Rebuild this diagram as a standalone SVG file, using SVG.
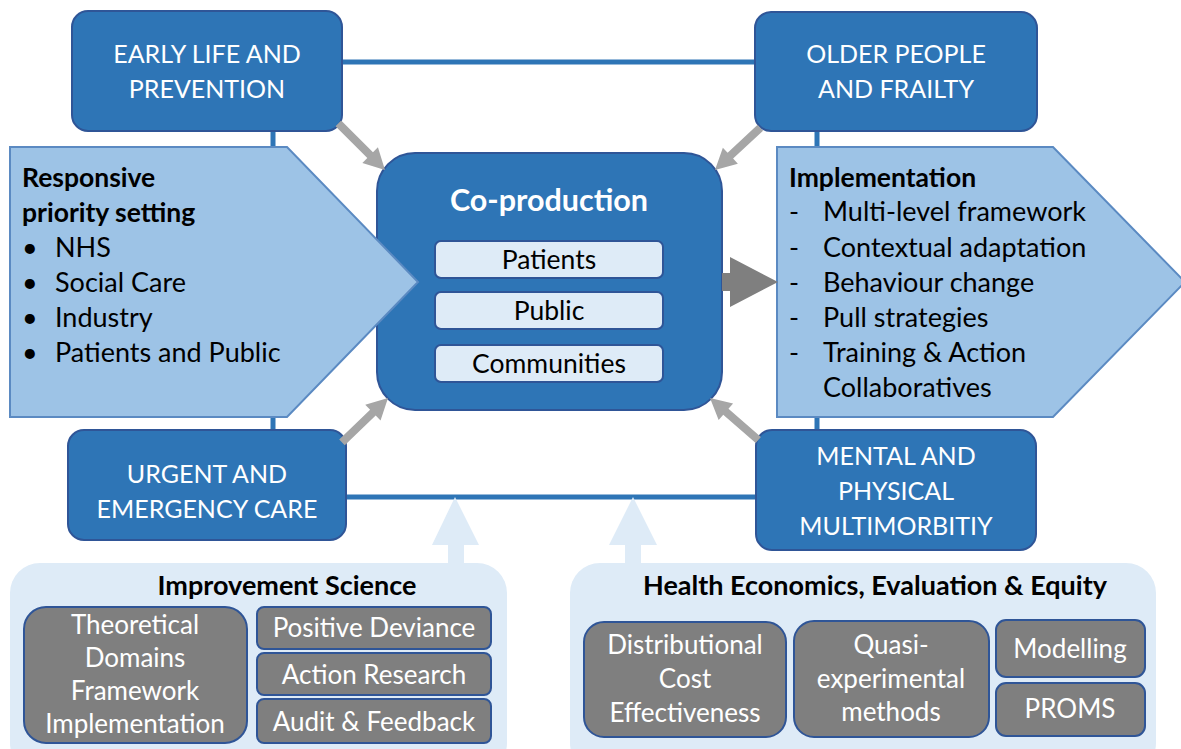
<svg xmlns="http://www.w3.org/2000/svg" width="1181" height="749" viewBox="0 0 1181 749">
  <defs>
    <style>
      text { font-family: Lato, "Liberation Sans", sans-serif; }
      .theme rect { fill: #2e75b6; stroke: #2f5597; stroke-width: 2; }
      .theme text { fill: #ffffff; font-size: 25px; text-anchor: middle; }
      .link { stroke: #2e75b6; stroke-width: 5; fill: none; }
      .pent { fill: #9dc3e6; stroke: #5b8ac2; stroke-width: 2; }
      .pent text { fill: #000000; font-size: 27px; stroke: none; }
      .pent .hd { font-weight: bold; font-size: 26.5px; }
      .chip { fill: #deebf7; stroke: #2f5597; stroke-width: 2; }
      .chip-t { fill: #000000; font-size: 26.5px; text-anchor: middle; }
      .panel { fill: #deebf7; }
      .panel-t { fill: #000000; font-size: 27px; font-weight: bold; text-anchor: middle; }
      .method rect { fill: #7f7f7f; stroke: #2f5597; stroke-width: 2; }
      .method text { fill: #ffffff; font-size: 26px; text-anchor: middle; }
      .feed { fill: #a6a6a6; }
    </style>
  </defs>

  <!-- frame of links joining the four theme boxes -->
  <g id="connectors">
    <line class="link" x1="342" y1="62" x2="757" y2="62"/>
    <line class="link" x1="346" y1="497" x2="757" y2="497"/>
    <line class="link" x1="273" y1="131" x2="273" y2="432"/>
    <line class="link" x1="817" y1="131" x2="817" y2="432"/>
  </g>

  <!-- central co-production hub -->
  <g id="coproduction">
    <rect x="377" y="153" width="345" height="257" rx="38" fill="#2e75b6" stroke="#2f5597" stroke-width="2"/>
    <text x="549" y="211" fill="#ffffff" font-size="30.5" font-weight="bold" text-anchor="middle">Co-production</text>
    <rect class="chip" x="435" y="241" width="228" height="37" rx="6"/>
    <text class="chip-t" x="549" y="269">Patients</text>
    <rect class="chip" x="435" y="292" width="228" height="37" rx="6"/>
    <text class="chip-t" x="549" y="320">Public</text>
    <rect class="chip" x="435" y="345" width="228" height="37" rx="6"/>
    <text class="chip-t" x="549" y="373">Communities</text>
  </g>

  <!-- input: priority setting -->
  <g id="priority-setting" class="pent">
    <polygon class="pent" points="10,147 287,147 418,282 287,417 10,417"/>
    <text class="hd" x="22" y="187">Responsive</text>
    <text class="hd" x="22" y="222">priority setting</text>
    <text x="22" y="257">•</text><text x="55" y="257">NHS</text>
    <text x="22" y="292">•</text><text x="55" y="292">Social Care</text>
    <text x="22" y="327">•</text><text x="55" y="327">Industry</text>
    <text x="22" y="362">•</text><text x="55" y="362">Patients and Public</text>
  </g>

  <!-- output: implementation -->
  <g id="implementation" class="pent">
    <polygon class="pent" points="777,147 1053,147 1185,282 1053,417 777,417"/>
    <text class="hd" x="789" y="187">Implementation</text>
    <text x="789" y="221">-</text><text x="823" y="221">Multi-level framework</text>
    <text x="789" y="257">-</text><text x="823" y="257">Contextual adaptation</text>
    <text x="789" y="292">-</text><text x="823" y="292">Behaviour change</text>
    <text x="789" y="327">-</text><text x="823" y="327">Pull strategies</text>
    <text x="789" y="362">-</text><text x="823" y="362">Training &amp; Action</text>
    <text x="823" y="397">Collaboratives</text>
  </g>

  <!-- hub to implementation -->
  <polygon id="flow-arrow" points="722,273 730,273 730,257 778,282 730,307 730,291 722,291" fill="#7f7f7f"/>

  <!-- theme boxes -->
  <g id="early-life" class="theme">
    <rect x="72" y="11" width="270" height="120" rx="16"/>
    <text x="207" y="63">EARLY LIFE AND</text>
    <text x="207" y="98">PREVENTION</text>
  </g>
  <g id="older-people" class="theme">
    <rect x="755" y="12" width="282" height="119" rx="16"/>
    <text x="896" y="63">OLDER PEOPLE</text>
    <text x="896" y="98">AND FRAILTY</text>
  </g>
  <g id="urgent-care" class="theme">
    <rect x="68" y="430" width="278" height="110" rx="16"/>
    <text x="207" y="483">URGENT AND</text>
    <text x="207" y="518">EMERGENCY CARE</text>
  </g>
  <g id="multimorbidity" class="theme">
    <rect x="756" y="430" width="280" height="120" rx="16"/>
    <text x="896" y="465">MENTAL AND</text>
    <text x="896" y="500">PHYSICAL</text>
    <text x="896" y="535">MULTIMORBITIY</text>
  </g>

  <!-- theme feeds into the hub -->
  <g id="feeds">
    <polygon class="feed" transform="translate(385,170) rotate(45)" points="0,0 -21,-11 -21,-4 -66,-4 -66,4 -21,4 -21,11"/>
    <polygon class="feed" transform="translate(715,170) rotate(137)" points="0,0 -21,-11 -21,-4 -62,-4 -62,4 -21,4 -21,11"/>
    <polygon class="feed" transform="translate(388,398) rotate(-44)" points="0,0 -21,-11 -21,-4 -64,-4 -64,4 -21,4 -21,11"/>
    <polygon class="feed" transform="translate(710,398) rotate(-139)" points="0,0 -21,-11 -21,-4 -64,-4 -64,4 -21,4 -21,11"/>
  </g>

  <!-- supporting themes pushing up -->
  <g id="improvement-science">
    <polygon class="panel" points="455,497 479,545 464,545 464,570 448,570 448,545 432,545"/>
    <rect class="panel" x="10" y="563" width="497" height="210" rx="30"/>
    <text class="panel-t" x="287" y="595">Improvement Science</text>
    <g class="method">
      <rect x="24" y="607" width="223" height="136" rx="22"/>
      <text x="135" y="634">Theoretical</text>
      <text x="135" y="667">Domains</text>
      <text x="135" y="700">Framework</text>
      <text x="135" y="733">Implementation</text>
      <rect x="257" y="607" width="234" height="42" rx="7"/>
      <text x="374" y="637">Positive Deviance</text>
      <rect x="257" y="653" width="234" height="42" rx="7"/>
      <text x="374" y="684">Action Research</text>
      <rect x="257" y="699" width="234" height="44" rx="7"/>
      <text x="374" y="731">Audit &amp; Feedback</text>
    </g>
  </g>

  <g id="health-economics">
    <polygon class="panel" points="633,497 657,545 641,545 641,570 625,570 625,545 609,545"/>
    <rect class="panel" x="570" y="563" width="586" height="210" rx="30"/>
    <text class="panel-t" x="875" y="595">Health Economics, Evaluation &amp; Equity</text>
    <g class="method">
      <rect x="584" y="622" width="202" height="115" rx="20"/>
      <text x="685" y="654">Distributional</text>
      <text x="685" y="688">Cost</text>
      <text x="685" y="722">Effectiveness</text>
      <rect x="794" y="621" width="195" height="116" rx="20"/>
      <text x="891" y="654">Quasi-</text>
      <text x="891" y="688">experimental</text>
      <text x="891" y="721">methods</text>
      <rect x="996" y="620" width="149" height="57" rx="10"/>
      <text x="1070" y="658">Modelling</text>
      <rect x="996" y="683" width="149" height="53" rx="10"/>
      <text x="1070" y="718">PROMS</text>
    </g>
  </g>
</svg>
